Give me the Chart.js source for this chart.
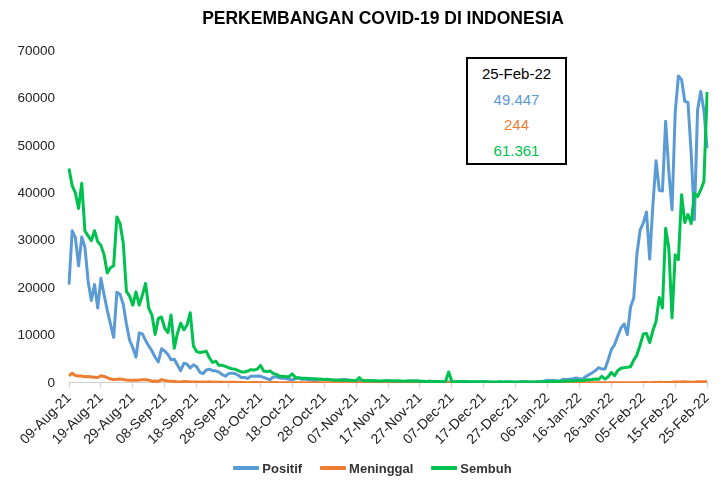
<!DOCTYPE html>
<html>
<head>
<meta charset="utf-8">
<script src="https://cdn.jsdelivr.net/npm/chart.js@4.4.1/dist/chart.umd.min.js"></script>
<style>
  body { margin: 0; background: #fff; }
  #wrap { position: relative; width: 721px; height: 481px; font-family: 'Liberation Sans', Arial, sans-serif; }
  #chartTitle {
    position: absolute; left: 183px; width: 400px; top: 8px; line-height: 20px;
    text-align: center; font-size: 17.5px; font-weight: bold; color: #000;
  }
  #infoBox {
    position: absolute; left: 466px; top: 57px; width: 97px; height: 102px;
    border: 2px solid #000; background: #fff; font-size: 15px;
    text-align: center; line-height: 25.5px; padding-top: 2px;
  }
  #legend {
    position: absolute; left: 12px; width: 721px; top: 459px; height: 18px;
    display: flex; justify-content: center; align-items: center;
    font-size: 13px; font-weight: bold; color: #333;
  }
  .legend-item { display: flex; align-items: center; margin: 0 9px; }
  .legend-line { width: 26px; height: 4px; margin-right: 3px; border-radius: 1px; }
</style>
</head>
<body>
<div id="wrap">
  <canvas id="covidChart" width="721" height="481"></canvas>
  <div id="chartTitle">PERKEMBANGAN COVID-19 DI INDONESIA</div>
  <div id="infoBox"></div>
  <div id="legend"></div>
</div>
<script>
// visible x tick labels (every 10 days)
const tickLabels = ['09-Aug-21', '19-Aug-21', '29-Aug-21', '08-Sep-21', '18-Sep-21', '28-Sep-21',
    '08-Oct-21', '18-Oct-21', '28-Oct-21', '07-Nov-21', '17-Nov-21', '27-Nov-21', '07-Dec-21',
    '17-Dec-21', '27-Dec-21', '06-Jan-22', '16-Jan-22', '26-Jan-22', '05-Feb-22', '15-Feb-22', '25-Feb-22'];

// daily cases 09-Aug-21 .. 25-Feb-22
const positif = [
    20709, 32081, 30625, 24709, 30788, 28598, 21400, 17384, 20741, 15800, 22053, 18600, 15300, 12400, 9604, 19106, 18671, 16600, 12400, 9000, 7427, 5436, 10534,
    10337, 8955, 7797, 6727, 5403, 4413, 7201, 6731, 5990, 4881, 5001, 3779, 2577, 4128, 3948, 3145, 3835, 3385, 2234, 1932, 2720, 2881, 2577, 2557, 2274, 1760, 1390, 1954, 2057, 1993,
    1624, 1142, 1147, 921, 1404, 1393, 1475, 1384, 1167, 894, 620, 1261, 1233, 1053, 985, 903, 747, 626, 914, 1020, 760, 802, 689, 623, 460, 612, 791, 714, 752, 636, 484,
    424, 612, 736, 650, 550, 524, 392, 240, 480, 435, 480, 400, 377, 266, 159, 400, 389, 377, 362, 426, 259, 176, 344, 400, 386, 403, 325, 257, 176, 360,
    297, 253, 287, 212, 210, 170, 126, 194, 232, 245, 268, 216, 186, 106, 190, 245, 180, 171, 148, 135, 99, 165, 161, 216, 178, 152, 92, 209, 263, 274, 170,
    174, 136, 265, 299, 404, 533, 479, 529, 414, 454, 802, 646, 772, 890, 1054, 855, 772, 1362, 1745, 2116, 2604, 3205, 2925, 2927, 4878, 7010, 8077, 9905, 11588, 12422, 10185,
    16021, 17895, 27197, 32211, 33729, 36057, 26121, 37492, 46843, 40618, 40489, 55209, 44526, 36501, 57049, 64718, 63956, 59384, 59138, 48484, 34418, 57491, 61488, 57426, 49447
];

const meninggal = [
    1475, 2048, 1579, 1466, 1447, 1270, 1324, 1245, 1180, 1128, 1492, 1348, 1100, 800, 700, 750, 820, 700, 612, 568, 574, 568, 600,
    681, 683, 591, 356, 394, 311, 690, 492, 384, 327, 305, 215, 163, 286, 259, 219, 199, 210, 134, 166, 145, 217, 161, 164, 125, 110, 83, 124, 138, 118,
    105, 66, 60, 48, 80, 71, 68, 59, 48, 40, 30, 60, 57, 40, 31, 38, 22, 16, 43, 39, 43, 28, 24, 23, 20, 16, 29, 27, 17, 18, 13,
    11, 20, 19, 24, 21, 9, 14, 12, 15, 17, 11, 14, 12, 8, 9, 16, 12, 11, 12, 8, 7, 6, 11, 13, 13, 10, 6, 5, 11, 9,
    14, 8, 6, 7, 8, 6, 4, 9, 6, 10, 7, 5, 4, 6, 9, 9, 3, 4, 6, 3, 5, 8, 10, 9, 4, 2, 7, 7, 5, 8, 3,
    5, 3, 4, 6, 3, 6, 3, 4, 7, 5, 4, 7, 6, 5, 9, 7, 4, 5, 7, 6, 5, 7, 5, 13, 13, 17, 20, 17, 20, 24, 16,
    29, 26, 38, 44, 61, 57, 44, 73, 99, 111, 104, 100, 81, 111, 167, 167, 179, 215, 177, 151, 148, 257, 227, 250, 244
];

const sembuh = [
    45200, 41600, 40100, 36800, 42100, 32000, 31000, 30000, 32100, 29800, 29000, 27000, 23200, 24300, 24700, 35000, 33600, 29500, 19300, 18300, 16400, 19200, 16400,
    18500, 21000, 15700, 14300, 10200, 13600, 13900, 11500, 10600, 14300, 7300, 10500, 12600, 11200, 12200, 14800, 7800, 6600, 6400, 6500, 6700, 5300, 4300, 4600, 3700, 3700, 3500, 3200, 3000, 2900,
    2600, 2300, 2300, 2500, 2800, 2700, 2900, 3700, 2500, 2400, 2500, 2000, 1800, 1400, 1400, 1300, 1300, 1900, 1100, 1100, 1000, 1000, 950, 900, 850, 800, 750, 700, 700, 650, 600,
    600, 560, 620, 580, 560, 520, 480, 1100, 500, 470, 480, 450, 430, 420, 400, 450, 430, 420, 400, 420, 380, 350, 380, 400, 390, 380, 350, 330, 300, 320,
    300, 310, 280, 290, 300, 2300, 280, 260, 270, 250, 260, 240, 230, 220, 240, 250, 230, 220, 210, 200, 190, 220, 210, 200, 190, 180, 170, 200, 210, 200, 190,
    200, 180, 220, 250, 260, 280, 300, 320, 300, 330, 350, 400, 450, 420, 500, 480, 520, 600, 650, 700, 800, 750, 1400, 800, 1300, 2200, 1500, 2600, 3100, 3200, 3300,
    3400, 4800, 5900, 8000, 10300, 10400, 8500, 11000, 13000, 18000, 15800, 32600, 28400, 13700, 27000, 26000, 39700, 33800, 35500, 33600, 40000, 39300, 40700, 42500, 61361
];

const seriesNames = ['Positif', 'Meninggal', 'Sembuh'];
const seriesColors = ['#5B9BD5', '#ED7D31', '#00C04F'];

const FONT = "'Liberation Sans', Arial, sans-serif";

// one category per day, only every 10th gets a visible label
const days = positif.map((v, i) => i);

function fmtId(n) {
    return n.toString().replace(/\B(?=(\d{3})+(?!\d))/g, '.');
}

function fillInfoBox() {
    const last = positif.length - 1;
    const box = document.getElementById('infoBox');
    const rows = [
        [tickLabels[tickLabels.length - 1], '#000'],
        [fmtId(positif[last]), seriesColors[0]],
        [fmtId(meninggal[last]), seriesColors[1]],
        [fmtId(sembuh[last]), seriesColors[2]]
    ];
    rows.forEach(r => {
        const d = document.createElement('div');
        d.textContent = r[0];
        d.style.color = r[1];
        box.appendChild(d);
    });
}

function fillLegend() {
    const legend = document.getElementById('legend');
    seriesNames.forEach((name, i) => {
        const item = document.createElement('div');
        item.className = 'legend-item';
        const line = document.createElement('span');
        line.className = 'legend-line';
        line.style.background = seriesColors[i];
        const txt = document.createElement('span');
        txt.textContent = name;
        item.appendChild(line);
        item.appendChild(txt);
        legend.appendChild(item);
    });
}

function tickColor(c) {
    return c.index % 10 === 0 ? '#d0d0d0' : 'rgba(0,0,0,0)';
}

function initCovidChart() {
    const ctx = document.getElementById('covidChart');
    const data = [positif, meninggal, sembuh];
    const drawOrder = [3, 2, 1];

    new Chart(ctx, {
        type: 'line',
        data: {
            labels: days,
            datasets: data.map((d, i) => ({
                label: seriesNames[i],
                data: d,
                borderColor: seriesColors[i],
                backgroundColor: seriesColors[i],
                borderWidth: 3,
                pointRadius: 0,
                tension: 0,
                fill: false,
                borderJoinStyle: 'round',
                order: drawOrder[i]
            }))
        },
        options: {
            responsive: false,
            animation: false,
            layout: { padding: { left: 17, right: 8, top: 51, bottom: 31 } },
            plugins: {
                title: { display: false },
                legend: { display: false },
                tooltip: { enabled: false }
            },
            scales: {
                x: {
                    offset: false,
                    grid: { drawOnChartArea: false, drawTicks: true, tickLength: 5, color: tickColor },
                    border: { display: true, color: '#d0d0d0' },
                    ticks: {
                        autoSkip: false,
                        minRotation: 45,
                        maxRotation: 45,
                        padding: 2,
                        color: '#222',
                        font: { family: FONT, size: 14 },
                        callback: (v, i) => (i % 10 === 0 ? tickLabels[i / 10] : '')
                    },
                    afterFit: scale => { scale.paddingLeft = 0; }
                },
                y: {
                    min: 0,
                    max: 70000,
                    grid: { display: false, drawTicks: false },
                    border: { display: false },
                    ticks: {
                        stepSize: 10000,
                        padding: 14,
                        color: '#222',
                        font: { family: FONT, size: 13.5 },
                        callback: v => String(v)
                    },
                    // fixed width: labels end at x=55, plot starts at x=69
                    afterFit: scale => { scale.width = 52; }
                }
            }
        }
    });
}

fillInfoBox();
fillLegend();
initCovidChart();
</script>
</body>
</html>
